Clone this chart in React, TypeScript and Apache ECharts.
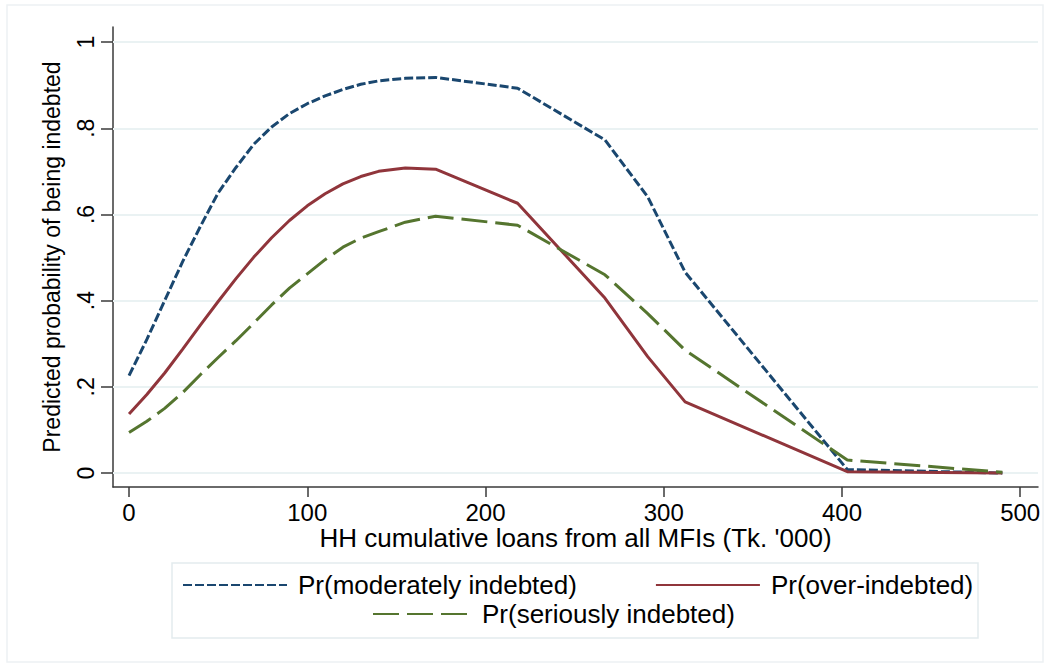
import React, { useEffect, useRef } from "react";
import * as echarts from "echarts";

const loanX = [0, 10, 20, 30, 40, 50, 60, 70, 80, 90, 100, 110, 120, 130, 140, 155, 172, 218, 267, 291, 312, 403, 490];
const moderately = [0.226, 0.31, 0.4, 0.49, 0.572, 0.65, 0.709, 0.763, 0.803, 0.834, 0.857, 0.875, 0.89, 0.902, 0.91, 0.916, 0.918, 0.893, 0.773, 0.641, 0.466, 0.008, 0.0];
const overIndebted = [0.137, 0.182, 0.232, 0.287, 0.343, 0.398, 0.451, 0.501, 0.546, 0.586, 0.62, 0.648, 0.671, 0.688, 0.7, 0.708, 0.705, 0.626, 0.406, 0.27, 0.165, 0.003, 0.0];
const seriously = [0.094, 0.12, 0.15, 0.186, 0.228, 0.268, 0.307, 0.348, 0.39, 0.429, 0.462, 0.495, 0.524, 0.545, 0.56, 0.582, 0.596, 0.575, 0.46, 0.37, 0.285, 0.03, 0.002];

const xTicks = [0, 100, 200, 300, 400, 500];
const yTicks = [0, 0.2, 0.4, 0.6, 0.8, 1];
const seriesNames = ["Pr(moderately indebted)", "Pr(over-indebted)", "Pr(seriously indebted)"];

const FONT = "Liberation Sans, Arial, sans-serif";
const NAVY = "#1a476f";
const MAROON = "#90353b";
const GREEN = "#55752f";
const AXIS = "#3a3a3a";

function pairs(ys: number[]) {
  return loanX.map((x, i) => [x, ys[i]]);
}

function fmtY(v: number) {
  if (v === 0) return "0";
  if (v === 1) return "1";
  return String(Number(v.toFixed(1))).replace(/^0/, "");
}

export default function App() {
  const ref = useRef<HTMLDivElement>(null);
  useEffect(() => {
    document.body.style.margin = "0";
    const chart = echarts.init(ref.current!, null, { renderer: "svg" });
    const legendText = { fontSize: 26, color: "#000", fontFamily: FONT, padding: [0, 0, 0, 6] };
    const option: any = {
      animation: false,
      backgroundColor: "#ffffff",
      textStyle: { fontFamily: FONT },
      graphic: [
        {
          type: "rect",
          z: 0,
          shape: { x: 7, y: 5, width: 1036, height: 657 },
          style: { fill: "none", stroke: "#edf1f3", lineWidth: 1.5 },
          silent: true,
        },
        {
          type: "rect",
          z: 0,
          shape: { x: 172, y: 563, width: 806, height: 75 },
          style: { fill: "#ffffff", stroke: "#e3ebee", lineWidth: 1.5 },
          silent: true,
        },
      ],
      grid: { left: 113, right: 12, top: 27, bottom: 182, containLabel: false },
      xAxis: {
        type: "value",
        min: -9,
        max: 510,
        name: "HH cumulative loans from all MFIs (Tk. '000)",
        nameLocation: "middle",
        nameGap: 38,
        nameMoveOverlap: false,
        nameTextStyle: { fontSize: 26, lineHeight: 26, color: "#000", fontFamily: FONT },
        axisLine: { show: true, onZero: false, lineStyle: { color: AXIS, width: 1.5 } },
        axisTick: { show: true, length: 10, customValues: xTicks, lineStyle: { color: AXIS, width: 1.5 } },
        axisLabel: { customValues: xTicks, fontSize: 24, lineHeight: 24, color: "#000", margin: 13, fontFamily: FONT },
        splitLine: { show: false },
      },
      yAxis: {
        type: "value",
        min: -0.0325,
        max: 1.035,
        name: "Predicted probability of being indebted",
        nameLocation: "middle",
        nameRotate: 90,
        nameGap: 50,
        nameMoveOverlap: false,
        nameTextStyle: { fontSize: 23, color: "#000", fontFamily: FONT },
        axisLine: { show: true, onZero: false, lineStyle: { color: AXIS, width: 1.5 } },
        axisTick: { show: true, length: 12, customValues: yTicks, lineStyle: { color: AXIS, width: 1.5 } },
        axisLabel: {
          customValues: yTicks,
          rotate: 90,
          fontSize: 23,
          color: "#000",
          margin: 16,
          fontFamily: FONT,
          formatter: (v: number) => fmtY(v),
        },
        splitLine: { show: false },
      },
      legend: [
        {
          data: [seriesNames[0], seriesNames[1]],
          left: 182,
          top: 572,
          padding: 0,
          itemWidth: 104,
          itemHeight: 14,
          itemGap: 78,
          itemStyle: { opacity: 0 },
          textStyle: legendText,
        },
        {
          data: [seriesNames[2]],
          left: 372,
          top: 601,
          padding: 0,
          itemWidth: 98,
          itemHeight: 14,
          itemStyle: { opacity: 0 },
          textStyle: legendText,
        },
      ],
      series: [
        {
          name: seriesNames[0],
          type: "line",
          data: pairs(moderately),
          symbol: "none",
          z: 3,
          lineStyle: { color: NAVY, width: 3, type: [9, 3] },
          itemStyle: { color: NAVY },
          markLine: {
            silent: true,
            z: 1,
            symbol: ["none", "none"],
            label: { show: false },
            lineStyle: { color: "#eaf2f3", width: 2, type: "solid" },
            data: yTicks.map((v) => ({ yAxis: v })),
          },
        },
        {
          name: seriesNames[1],
          type: "line",
          data: pairs(overIndebted),
          symbol: "none",
          z: 3,
          lineStyle: { color: MAROON, width: 3, type: "solid" },
          itemStyle: { color: MAROON },
        },
        {
          name: seriesNames[2],
          type: "line",
          data: pairs(seriously),
          symbol: "none",
          z: 3,
          lineStyle: { color: GREEN, width: 3, type: [26, 8] },
          itemStyle: { color: GREEN },
        },
      ],
    };
    chart.setOption(option);
    return () => chart.dispose();
  }, []);
  return <div ref={ref} style={{ position: "fixed", left: 0, top: 0, width: 1050, height: 669 }} />;
}
